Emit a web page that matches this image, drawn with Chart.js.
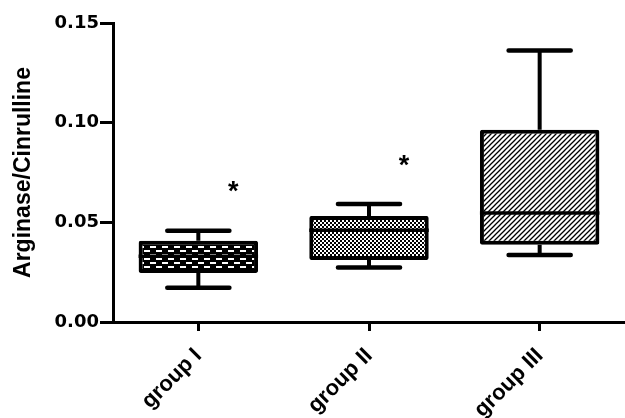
<!DOCTYPE html>
<html>
<head>
<meta charset="utf-8">
<script src="https://cdn.jsdelivr.net/npm/chart.js@4.4.1/dist/chart.umd.min.js"></script>
<style>
  html, body { margin: 0; padding: 0; background: #fff; }
  #wrap { width: 625px; height: 418px; }
</style>
</head>
<body>
<div id="wrap"><canvas id="boxChart"></canvas></div>
<script>
const groups = ["group I", "group II", "group III"];
const whiskerLow = [0.0172, 0.0273, 0.0336];
const q1 = [0.0246, 0.0311, 0.0387];
const median = [0.0330, 0.0460, 0.0547];
const q3 = [0.0407, 0.0532, 0.0964];
const whiskerHigh = [0.0458, 0.0592, 0.1362];
const starY = [0.0675, 0.0808, null];
const yTicks = [0, 0.05, 0.10, 0.15];

function makePattern(w, h, draw) {
    const c = document.createElement("canvas");
    c.width = w;
    c.height = h;
    const g = c.getContext("2d");
    g.fillStyle = "#fff";
    g.fillRect(0, 0, w, h);
    g.fillStyle = "#000";
    g.strokeStyle = "#000";
    draw(g);
    return document.createElement("canvas").getContext("2d").createPattern(c, "repeat");
}

// wide checker (group I)
const patCheckerWide = makePattern(12, 8, g => {
    g.fillRect(0, 0, 12, 2);
    g.fillRect(6, 2, 6, 2);
    g.fillRect(0, 4, 12, 2);
    g.fillRect(0, 6, 6, 2);
});
// fine checker (group II)
const patCheckerFine = makePattern(4, 4, g => {
    g.fillRect(0, 0, 2, 2);
    g.fillRect(2, 2, 2, 2);
});
// diagonal hatch (group III)
const patHatch = makePattern(5, 5, g => {
    g.lineWidth = 1.3;
    g.beginPath();
    g.moveTo(-1, 6); g.lineTo(6, -1);
    g.moveTo(-6, 6); g.lineTo(1, -1);
    g.moveTo(4, 6); g.lineTo(11, -1);
    g.stroke();
});

const boxExtras = {
    id: "boxExtras",
    afterDatasetsDraw(chart) {
        const ctx = chart.ctx;
        const x = chart.scales.x;
        const y = chart.scales.y;
        const meta = chart.getDatasetMeta(0);
        ctx.save();
        ctx.strokeStyle = "#000";
        meta.data.forEach((bar, i) => {
            const cx = x.getPixelForValue(i);
            const half = bar.width * 0.26;
            // whisker stems
            ctx.lineWidth = 4;
            ctx.lineCap = "butt";
            ctx.beginPath();
            ctx.moveTo(cx, y.getPixelForValue(q3[i]));
            ctx.lineTo(cx, y.getPixelForValue(whiskerHigh[i]));
            ctx.moveTo(cx, y.getPixelForValue(q1[i]));
            ctx.lineTo(cx, y.getPixelForValue(whiskerLow[i]));
            ctx.stroke();
            // caps
            ctx.lineWidth = 4.5;
            ctx.lineCap = "round";
            ctx.beginPath();
            ctx.moveTo(cx - half, y.getPixelForValue(whiskerHigh[i]));
            ctx.lineTo(cx + half, y.getPixelForValue(whiskerHigh[i]));
            ctx.moveTo(cx - half, y.getPixelForValue(whiskerLow[i]));
            ctx.lineTo(cx + half, y.getPixelForValue(whiskerLow[i]));
            ctx.stroke();
            // median
            ctx.lineWidth = 3.5;
            ctx.lineCap = "butt";
            ctx.beginPath();
            ctx.moveTo(bar.x - bar.width / 2, y.getPixelForValue(median[i]));
            ctx.lineTo(bar.x + bar.width / 2, y.getPixelForValue(median[i]));
            ctx.stroke();
            // significance marks
            if (starY[i] !== null) {
                ctx.fillStyle = "#000";
                ctx.font = "bold 27px 'Liberation Sans'";
                ctx.textAlign = "center";
                ctx.textBaseline = "alphabetic";
                ctx.fillText("*", x.getPixelForValue(i + 0.205), y.getPixelForValue(starY[i]) + 13);
            }
        });
        ctx.restore();
    }
};

new Chart(document.getElementById("boxChart"), {
    type: "bar",
    data: {
        labels: groups,
        datasets: [{
            data: groups.map((g, i) => [q1[i], q3[i]]),
            backgroundColor: [patCheckerWide, patCheckerFine, patHatch],
            borderColor: "#000",
            borderWidth: 4,
            borderSkipped: false,
            borderRadius: 2,
            barPercentage: 0.7,
            categoryPercentage: 1
        }]
    },
    options: {
        responsive: true,
        maintainAspectRatio: false,
        animation: false,
        layout: { padding: { top: 23, right: 0, bottom: 0, left: 0 } },
        plugins: { legend: { display: false }, tooltip: { enabled: false } },
        scales: {
            x: {
                afterFit: s => { s.height = 96; },
                grid: { display: true, offset: false, drawOnChartArea: false, drawTicks: true, tickLength: 9, tickWidth: 3, tickColor: "#000" },
                border: { display: true, color: "#000", width: 3 },
                ticks: {
                    color: "#000",
                    minRotation: 45,
                    maxRotation: 45,
                    padding: 12,
                    font: { family: "'Liberation Sans', Arial", size: 22, weight: "bold" }
                }
            },
            y: {
                min: 0,
                max: 0.15,
                afterFit: s => { s.width = 113; },
                afterBuildTicks: s => { s.ticks = yTicks.map(v => ({ value: v })); },
                grid: { display: true, drawOnChartArea: false, drawTicks: true, tickLength: 13, tickWidth: 3, tickColor: "#000" },
                border: { display: true, color: "#000", width: 3 },
                ticks: {
                    color: "#000",
                    padding: 1,
                    callback: v => v.toFixed(2),
                    font: { family: "'DejaVu Sans'", size: 18, weight: "bold" }
                },
                title: {
                    display: true,
                    text: "Arginase/Cinrulline",
                    color: "#000",
                    padding: { top: 10, bottom: 0 },
                    font: { family: "'Liberation Sans', Arial", size: 23, weight: "bold" }
                }
            }
        }
    },
    plugins: [boxExtras]
});
</script>
</body>
</html>
